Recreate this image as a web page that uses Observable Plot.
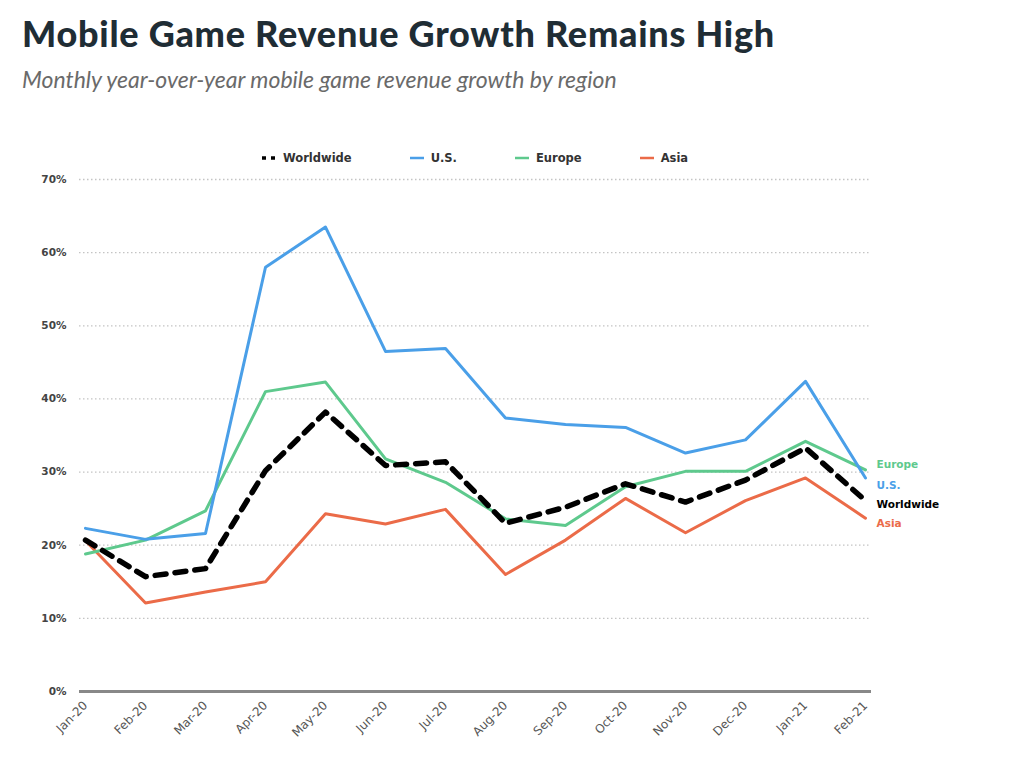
<!DOCTYPE html>
<html>
<head>
<meta charset="utf-8">
<script src="https://cdn.jsdelivr.net/npm/d3@7"></script>
<script src="https://cdn.jsdelivr.net/npm/@observablehq/plot@0.6"></script>
<style>
  html, body { margin: 0; padding: 0; background: #fff; }
  body { width: 1016px; height: 783px; position: relative; overflow: hidden; font-family: Lato, "Noto Sans", sans-serif; }
  #title { position: absolute; left: 22px; top: 11px; font-family: Lato, sans-serif; font-weight: 900; font-size: 36px; color: #1f2d35; letter-spacing: 0.75px; white-space: nowrap; }
  #subtitle { position: absolute; left: 22px; top: 65px; font-family: Lato, sans-serif; font-style: italic; font-size: 23px; color: #6a6a6a; white-space: nowrap; }
  #legend { position: absolute; left: 262px; top: 150px; display: flex; gap: 58px; font-family: "DejaVu Sans", sans-serif; font-weight: 700; font-size: 11.5px; color: #333; }
  #legend .item { display: flex; align-items: center; gap: 7px; height: 16px; }
  #chart { position: absolute; left: 0; top: 165px; }
</style>
</head>
<body>
<div id="title">Mobile Game Revenue Growth Remains High</div>
<div id="subtitle">Monthly year-over-year mobile game revenue growth by region</div>
<div id="legend"></div>
<div id="chart"></div>
<script>
const months = ["Jan-20","Feb-20","Mar-20","Apr-20","May-20","Jun-20","Jul-20","Aug-20","Sep-20","Oct-20","Nov-20","Dec-20","Jan-21","Feb-21"];
const worldwide = [20.7, 15.7, 16.8, 30.2, 38.2, 30.9, 31.4, 23.0, 25.2, 28.4, 25.9, 28.9, 33.3, 26.1];
const us        = [22.3, 20.8, 21.6, 58.0, 63.5, 46.5, 46.9, 37.4, 36.5, 36.1, 32.6, 34.4, 42.4, 29.2];
const europe    = [18.8, 20.7, 24.7, 41.0, 42.3, 31.8, 28.6, 23.6, 22.7, 28.0, 30.1, 30.1, 34.2, 30.3];
const asia      = [20.6, 12.1, 13.6, 15.0, 24.3, 22.9, 24.9, 16.0, 20.7, 26.4, 21.7, 26.1, 29.2, 23.7];
const yTicks = [0, 10, 20, 30, 40, 50, 60, 70];
const seriesNames = ["Worldwide", "U.S.", "Europe", "Asia"];

const colors = {"Worldwide": "#000000", "U.S.": "#4a9fe8", "Europe": "#5ec98d", "Asia": "#eb6b48"};
const seriesData = {"Worldwide": worldwide, "U.S.": us, "Europe": europe, "Asia": asia};
const labelDy = {"Europe": -5, "U.S.": 8, "Worldwide": 4, "Asia": 5};

const rows = seriesNames.flatMap(s => seriesData[s].map((v, i) => ({series: s, month: months[i], value: v})));
const last = seriesNames.map(s => ({series: s, month: months[months.length - 1], value: seriesData[s][months.length - 1]}));

// legend
const legend = document.getElementById("legend");
for (const s of seriesNames) {
  const item = document.createElement("div");
  item.className = "item";
  const dashed = s === "Worldwide";
  item.innerHTML = `<svg width="14" height="6"><line x1="0" x2="14" y1="3" y2="3" stroke="${colors[s]}" stroke-width="${dashed ? 3.5 : 2.5}" ${dashed ? 'stroke-dasharray="4,5"' : ''}/></svg><span>${s}</span>`;
  legend.appendChild(item);
}

const lineMarks = ["Asia", "Europe", "U.S."].map(s =>
  Plot.line(rows.filter(d => d.series === s), {x: "month", y: "value", stroke: colors[s], strokeWidth: 3})
);

const chart = Plot.plot({
  width: 1016,
  height: 600,
  marginLeft: 79,
  marginRight: 145,
  marginTop: 14,
  marginBottom: 74,
  style: {fontFamily: "'DejaVu Sans', sans-serif", fontSize: "10.5px", color: "#444", background: "transparent"},
  x: {type: "point", domain: months, padding: 0, label: null},
  y: {domain: [0, 70], label: null},
  marks: [
    Plot.ruleY(yTicks.filter(d => d > 0), {stroke: "#c4c4c4", strokeWidth: 1.3, strokeDasharray: "1.5,2.5"}),
    Plot.ruleY([0], {stroke: "#888", strokeWidth: 3}),
    Plot.axisY({ticks: yTicks, tickSize: 0, tickPadding: 13, tickFormat: d => d + "%", fontWeight: 700, fill: "#444"}),
    Plot.axisX({tickSize: 0, tickRotate: -45, tickPadding: 12, fontSize: 12, fontWeight: 400, fill: "#555"}),
    ...lineMarks,
    Plot.line(rows.filter(d => d.series === "Worldwide"), {x: "month", y: "value", stroke: "#000", strokeWidth: 5.5, strokeDasharray: "11,9"}),
    ...last.map(d => Plot.text([d], {x: "month", y: "value", text: "series", fill: colors[d.series], textAnchor: "start", dx: 11, dy: labelDy[d.series], fontWeight: 700, fontSize: 10.5}))
  ]
});
document.getElementById("chart").appendChild(chart);
</script>
</body>
</html>
